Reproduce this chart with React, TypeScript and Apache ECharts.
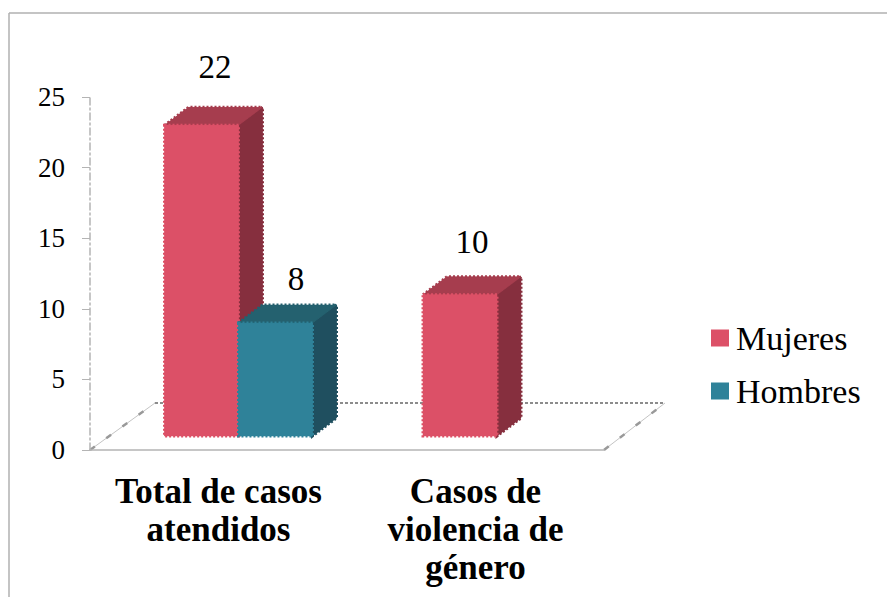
import React, { useEffect, useRef } from "react";
import * as echarts from "echarts";

const categories = ["Total de casos\natendidos", "Casos de\nviolencia de\ngénero"];
const mujeres: (number | null)[] = [22, 10];
const hombres: (number | null)[] = [8, null];
const yTicks = { min: 0, max: 25, interval: 5 };

const FONT = "'Liberation Serif', serif";
const DEPTH_X = 24;
const DEPTH_Y = 18;
const LIFT = 14;
const BAR_W = 74;
const GROUP_SHIFT = 20;

const palette = {
  Mujeres: { front: "#dc5067", top: "#a63d4e", side: "#862f3e" },
  Hombres: { front: "#2f8299", top: "#24616f", side: "#1f4f5f" },
};

const labelShift: Record<string, number[][]> = {
  Mujeres: [[-3.5, -72], [-3.5, -67]],
  Hombres: [[77.5, -58], [0, 0]],
};

function bar3d(name: "Mujeres" | "Hombres", slot: number) {
  const c = palette[name];
  return (params: any, api: any) => {
    const v = api.value(1);
    if (v == null || isNaN(v)) return null;
    const cat = api.value(0);
    const [cx, y] = api.coord([cat, v]);
    const [, y0] = api.coord([cat, 0]);
    const x0 = cx + GROUP_SHIFT + slot * BAR_W + (cat === 1 ? 1.5 : 0);
    const x1 = x0 + BAR_W;
    const yb = y0 - LIFT;
    const yt = y - LIFT;
    const edge = (color: string) => ({ fill: color, stroke: color, lineWidth: 3, lineDash: [2, 2] });
    const inner = (color: string) => ({ fill: color, stroke: color, lineWidth: 0.5 });
    const ls = labelShift[name][params.dataIndex];
    return {
      type: "group",
      children: [
        { type: "polygon", shape: { points: [[x1, yt], [x1 + DEPTH_X, yt - DEPTH_Y], [x1 + DEPTH_X, yb - DEPTH_Y], [x1, yb]] }, style: edge(c.side) },
        { type: "polygon", shape: { points: [[x0, yt], [x0 + DEPTH_X, yt - DEPTH_Y], [x1 + DEPTH_X, yt - DEPTH_Y], [x1, yt]] }, style: edge(c.top) },
        { type: "polygon", shape: { points: [[x1, yt], [x1 + DEPTH_X, yt - DEPTH_Y], [x1 + DEPTH_X, yb - DEPTH_Y], [x1, yb]] }, style: inner(c.side) },
        { type: "polygon", shape: { points: [[x0, yt], [x0 + DEPTH_X, yt - DEPTH_Y], [x1 + DEPTH_X, yt - DEPTH_Y], [x1, yt]] }, style: inner(c.top) },
        { type: "rect", shape: { x: x0, y: yt, width: BAR_W, height: yb - yt }, style: edge(c.front) },
        { type: "rect", shape: { x: x0, y: yt, width: BAR_W, height: yb - yt }, style: inner(c.front) },
        {
          type: "text",
          x: cx + ls[0],
          y: y + ls[1],
          style: { text: String(v), font: `33px ${FONT}`, fill: "#000", align: "center", verticalAlign: "middle" },
        },
      ],
    };
  };
}

const GREY = "#b4b4b4";

export default function App() {
  const ref = useRef<HTMLDivElement>(null);
  useEffect(() => {
    const chart = echarts.init(ref.current!, undefined, { renderer: "svg" });
    chart.setOption({
      animation: false,
      backgroundColor: "#fff",
      grid: { left: 90, top: 97, width: 514, height: 353 },
      xAxis: {
        type: "category",
        data: categories,
        axisLine: { lineStyle: { color: GREY, width: 1.5 } },
        axisTick: { length: 11, lineStyle: { color: GREY, width: 1.5 } },
        axisLabel: {
          interval: 0,
          margin: 22,
          color: "#000",
          fontFamily: FONT,
          fontWeight: "bold",
          fontSize: 35,
          lineHeight: 38,
        },
      },
      yAxis: {
        type: "value",
        ...yTicks,
        splitLine: { show: false },
        axisLine: { show: true, lineStyle: { color: GREY, width: 1.5, type: [7, 3, 2, 3] } },
        axisTick: { show: true, length: 8, lineStyle: { color: GREY, width: 1 } },
        axisLabel: { margin: 25, color: "#000", fontFamily: FONT, fontSize: 27 },
      },
      legend: {
        orient: "vertical",
        left: 706,
        top: 316,
        icon: "rect",
        itemWidth: 18,
        itemHeight: 17,
        itemGap: 19,
        data: ["Mujeres", "Hombres"],
        textStyle: { fontFamily: FONT, fontSize: 34, color: "#000", padding: [0, 0, 0, 2], lineHeight: 34 },
      },
      graphic: [
        { type: "line", silent: true, z: -1, shape: { x1: 9, y1: 13, x2: 887, y2: 13 }, style: { stroke: "#b0b0b0", lineWidth: 1.5 } },
        { type: "line", silent: true, z: -1, shape: { x1: 9, y1: 13, x2: 9, y2: 597 }, style: { stroke: "#b0b0b0", lineWidth: 1.5 } },
        { type: "line", silent: true, z: -1, shape: { x1: 155, y1: 403, x2: 665, y2: 403 }, style: { stroke: "#8c8c8c", lineWidth: 2, lineDash: [3, 2] } },
        { type: "line", silent: true, z: -1, shape: { x1: 90, y1: 450, x2: 155, y2: 403 }, style: { stroke: "#c4c4c4", lineWidth: 1 } },
        { type: "line", silent: true, z: -1, shape: { x1: 90, y1: 450, x2: 155, y2: 403 }, style: { stroke: "#999", lineWidth: 2.5, lineDash: [6, 14] } },
        { type: "line", silent: true, z: -1, shape: { x1: 604, y1: 450, x2: 665, y2: 403 }, style: { stroke: "#c4c4c4", lineWidth: 1 } },
        { type: "line", silent: true, z: -1, shape: { x1: 604, y1: 450, x2: 665, y2: 403 }, style: { stroke: "#999", lineWidth: 2.5, lineDash: [6, 14] } },
      ],
      series: [
        {
          name: "Mujeres",
          type: "custom",
          renderItem: bar3d("Mujeres", -1),
          itemStyle: { color: palette.Mujeres.front },
          encode: { x: 0, y: 1 },
          data: mujeres.map((v, i) => [i, v]),
          clip: false,
        },
        {
          name: "Hombres",
          type: "custom",
          renderItem: bar3d("Hombres", 0),
          itemStyle: { color: palette.Hombres.front },
          encode: { x: 0, y: 1 },
          data: hombres.map((v, i) => [i, v]).filter((d) => d[1] != null),
          clip: false,
        },
      ],
    });
    return () => chart.dispose();
  }, []);
  return <div ref={ref} style={{ position: "absolute", left: 0, top: 0, width: 887, height: 597 }} />;
}
